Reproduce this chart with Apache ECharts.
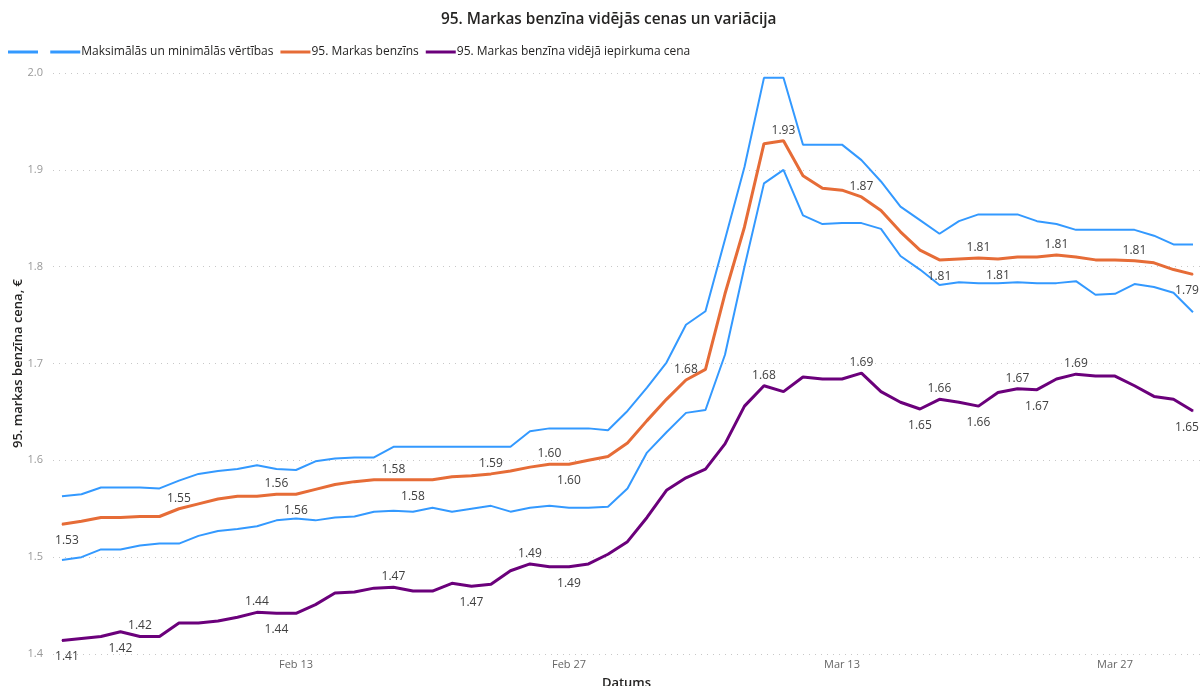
<!DOCTYPE html>
<html>
<head>
<meta charset="utf-8">
<script src="https://cdn.jsdelivr.net/npm/echarts@6/dist/echarts.min.js"></script>
<style>
  html, body { margin: 0; padding: 0; background: #fff; }
  #main { width: 1200px; height: 686px; }
</style>
</head>
<body>
<div id="main"></div>
<script>
// dienas (kategorijas)
const dates = [
  'Feb 1', 'Feb 2', 'Feb 3', 'Feb 4', 'Feb 5', 'Feb 6', 'Feb 7', 'Feb 8', 'Feb 9', 'Feb 10',
  'Feb 11', 'Feb 12', 'Feb 13', 'Feb 14', 'Feb 15', 'Feb 16', 'Feb 17', 'Feb 18', 'Feb 19', 'Feb 20',
  'Feb 21', 'Feb 22', 'Feb 23', 'Feb 24', 'Feb 25', 'Feb 26', 'Feb 27', 'Feb 28',
  'Mar 1', 'Mar 2', 'Mar 3', 'Mar 4', 'Mar 5', 'Mar 6', 'Mar 7', 'Mar 8', 'Mar 9', 'Mar 10',
  'Mar 11', 'Mar 12', 'Mar 13', 'Mar 14', 'Mar 15', 'Mar 16', 'Mar 17', 'Mar 18', 'Mar 19', 'Mar 20',
  'Mar 21', 'Mar 22', 'Mar 23', 'Mar 24', 'Mar 25', 'Mar 26', 'Mar 27', 'Mar 28', 'Mar 29', 'Mar 30', 'Mar 31'
];
const xTickLabels = ['Feb 13', 'Feb 27', 'Mar 13', 'Mar 27'];
const yTicks = [1.4, 1.5, 1.6, 1.7, 1.8, 1.9, 2.0];

const maxPrice = [
  1.563, 1.565, 1.572, 1.572, 1.572, 1.571, 1.579, 1.586, 1.589, 1.591,
  1.595, 1.591, 1.590, 1.599, 1.602, 1.603, 1.603, 1.614, 1.614, 1.614,
  1.614, 1.614, 1.614, 1.614, 1.630, 1.633, 1.633, 1.633, 1.631, 1.651,
  1.675, 1.701, 1.740, 1.754, 1.828, 1.903, 1.995, 1.995, 1.926, 1.926,
  1.926, 1.910, 1.888, 1.862, 1.848, 1.834, 1.847, 1.854, 1.854, 1.854,
  1.847, 1.844, 1.838, 1.838, 1.838, 1.838, 1.832, 1.823, 1.823
];
const minPrice = [
  1.497, 1.500, 1.508, 1.508, 1.512, 1.514, 1.514, 1.522, 1.527, 1.529,
  1.532, 1.538, 1.540, 1.538, 1.541, 1.542, 1.547, 1.548, 1.547, 1.551,
  1.547, 1.550, 1.553, 1.547, 1.551, 1.553, 1.551, 1.551, 1.552, 1.571,
  1.608, 1.629, 1.649, 1.652, 1.709, 1.800, 1.886, 1.900, 1.853, 1.844,
  1.845, 1.845, 1.839, 1.811, 1.797, 1.781, 1.784, 1.783, 1.783, 1.784,
  1.783, 1.783, 1.785, 1.771, 1.772, 1.782, 1.779, 1.773, 1.753
];
const avgPrice = [
  1.534, 1.537, 1.541, 1.541, 1.542, 1.542, 1.550, 1.555, 1.560, 1.563,
  1.563, 1.565, 1.565, 1.570, 1.575, 1.578, 1.580, 1.580, 1.580, 1.580,
  1.583, 1.584, 1.586, 1.589, 1.593, 1.596, 1.596, 1.600, 1.604, 1.618,
  1.641, 1.663, 1.683, 1.694, 1.772, 1.841, 1.927, 1.930, 1.894, 1.881,
  1.879, 1.872, 1.858, 1.836, 1.817, 1.807, 1.808, 1.809, 1.808, 1.810,
  1.810, 1.812, 1.810, 1.807, 1.807, 1.806, 1.804, 1.797, 1.792
];
const purchasePrice = [
  1.414, 1.416, 1.418, 1.423, 1.418, 1.418, 1.432, 1.432, 1.434, 1.438,
  1.443, 1.442, 1.442, 1.451, 1.463, 1.464, 1.468, 1.469, 1.465, 1.465,
  1.473, 1.470, 1.472, 1.486, 1.493, 1.490, 1.490, 1.493, 1.503, 1.516,
  1.541, 1.569, 1.582, 1.591, 1.617, 1.656, 1.677, 1.671, 1.686, 1.684,
  1.684, 1.690, 1.671, 1.660, 1.653, 1.663, 1.660, 1.656, 1.670, 1.674,
  1.673, 1.684, 1.689, 1.687, 1.687, 1.677, 1.666, 1.663, 1.651
];

// kur rādīt datu etiķetes (indeksi)
const avgLabelsTop = [6, 11, 17, 22, 25, 32, 37, 41, 47, 51, 55];
const avgLabelsBottom = [0, 12, 18, 26, 45, 48, 58];
const purLabelsTop = [4, 10, 17, 24, 36, 41, 45, 49, 52];
const purLabelsBottom = [0, 3, 11, 21, 26, 44, 47, 50, 58];

const FONT = "'Segoe UI', 'Open Sans', sans-serif";

function buildData(values, topIdx, bottomIdx) {
  return values.map(function (v, i) {
    let item = { value: [i, v] };
    let pos = topIdx.indexOf(i) >= 0 ? 'top' : (bottomIdx.indexOf(i) >= 0 ? 'bottom' : null);
    if (pos) {
      let off = [0, 0];
      if (i === 0) off[0] = 5;
      if (i === values.length - 1) off[0] = -6;
      item.label = {
        show: true,
        position: pos,
        distance: pos === 'top' ? 4 : 10,
        offset: off
      };
    }
    return item;
  });
}

function plain(values) {
  return values.map(function (v, i) { return [i, v]; });
}

const chart = echarts.init(document.getElementById('main'));
const labelStyle = {
  color: '#404040',
  fontSize: 12,
  fontFamily: FONT,
  formatter: function (p) { return p.value[1].toFixed(2); }
};

chart.setOption({
  animation: false,
  title: {
    text: '95. Markas benzīna vidējās cenas un variācija',
    left: 441,
    top: 12,
    padding: 0,
    textStyle: { fontSize: 15.4, fontWeight: 600, color: '#252423', fontFamily: FONT }
  },
  legend: {
    left: 8,
    top: 46,
    padding: 0,
    icon: 'rect',
    itemWidth: 30,
    itemHeight: 3,
    itemGap: 7,
    textStyle: { fontSize: 12, color: '#252423', fontFamily: FONT, padding: [0, 0, 0, -4] },
    data: [
      { name: ' ', textStyle: { fontSize: 1, padding: [0, 0, 0, 0] } },
      'Maksimālās un minimālās vērtības',
      '95. Markas benzīns',
      '95. Markas benzīna vidējā iepirkuma cena'
    ]
  },
  grid: {
    left: 53,
    right: 0,
    top: 73,
    bottom: 32,
    outerBoundsMode: 'none'
  },
  xAxis: {
    type: 'value',
    min: -0.46,
    max: 58.36,
    name: 'Datums',
    nameLocation: 'middle',
    nameGap: 23,
    nameTextStyle: { fontSize: 13, color: '#252423', fontFamily: FONT, fontWeight: 600 },
    axisLine: { show: false },
    axisTick: { show: false },
    splitLine: { show: false },
    axisLabel: {
      customValues: xTickLabels.map(function (d) { return dates.indexOf(d); }),
      formatter: function (v) { return dates[Math.round(v)]; },
      color: '#666666',
      fontSize: 11,
      margin: 5,
      fontFamily: FONT
    }
  },
  yAxis: {
    type: 'value',
    min: yTicks[0],
    max: yTicks[yTicks.length - 1],
    interval: 0.1,
    name: '95. markas benzīna cena, €',
    nameLocation: 'middle',
    nameGap: 28,
    nameMoveOverlap: false,
    nameTextStyle: { fontSize: 13, color: '#252423', fontFamily: FONT, fontWeight: 600 },
    axisLine: { show: false },
    axisTick: { show: false },
    axisLabel: {
      formatter: function (v) { return v.toFixed(1); },
      color: '#999999',
      fontSize: 11,
      margin: 10,
      fontFamily: FONT
    },
    splitLine: { lineStyle: { type: [1, 5], color: '#c8c8c8', width: 1 } }
  },
  series: [
    {
      name: ' ',
      type: 'line',
      data: plain(minPrice),
      showSymbol: false,
      color: '#3399ff',
      lineStyle: { width: 2 }
    },
    {
      name: 'Maksimālās un minimālās vērtības',
      type: 'line',
      data: plain(maxPrice),
      showSymbol: false,
      color: '#3399ff',
      lineStyle: { width: 2 }
    },
    {
      name: '95. Markas benzīns',
      type: 'line',
      data: buildData(avgPrice, avgLabelsTop, avgLabelsBottom),
      symbol: 'circle',
      symbolSize: 1,
      color: '#e66c37',
      lineStyle: { width: 3 },
      label: labelStyle
    },
    {
      name: '95. Markas benzīna vidējā iepirkuma cena',
      type: 'line',
      data: buildData(purchasePrice, purLabelsTop, purLabelsBottom),
      symbol: 'circle',
      symbolSize: 1,
      color: '#6b007b',
      lineStyle: { width: 3 },
      label: labelStyle
    }
  ]
});
</script>
</body>
</html>
